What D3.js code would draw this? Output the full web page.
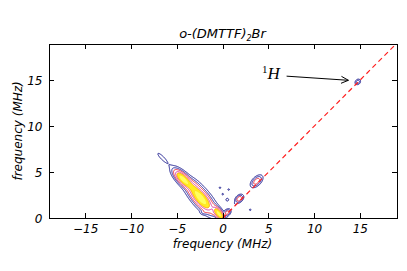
<!DOCTYPE html>
<html lang="en">
<head>
<meta charset="utf-8">
<title>o-(DMTTF)2Br HYSCORE</title>
<script src="https://d3js.org/d3.v7.min.js"></script>
<style>
    body { margin: 0; background: white; }
    .axis text { font: italic 12px "DejaVu Sans", sans-serif; fill: #000; }
    .axis path, .axis line { stroke: #000; stroke-width: 1px; shape-rendering: crispEdges; }
    .label { font: italic 12px "DejaVu Sans", sans-serif; }
</style>
</head>
<body>
<svg width="407" height="271"></svg>
<script>
    // axis ticks
    var xTicks = [-15, -10, -5, 0, 5, 10, 15];
    var yTicks = [0, 5, 10, 15];

    // peaks (MHz): centre, width along / across its axis, angle, height
    var peakX      = [-6.6, -4.35, -2.4, -0.4, -2.6, 0.0, 0.65, 0.5, 1.4, 1.8, 0.5, 3.7, 3.0, 14.75, -2.1, -1.0, -3.1, -0.3];
    var peakY      = [ 6.55, 4.25,  2.15, 0.45, 2.6, 2.6, 3.1,  2.0, 1.6, 2.1, 0.6, 4.0, 0.9, 14.8,   0.6,  0.55, 3.6,  3.3];
    var peakAlong  = [0.8,  0.75, 1.1,  0.5,  1.9,  0.1, 0.1,  0.15, 0.1, 0.3, 0.25, 0.45, 0.1, 0.2,  0.25, 0.15, 0.5,  0.1];
    var peakAcross = [0.2,  0.3,  0.42, 0.22, 0.55, 0.1, 0.1,  0.15, 0.1, 0.2, 0.18, 0.25, 0.1, 0.16, 0.15, 0.15, 0.3,  0.1];
    var peakAngle  = [-45,  -45,  -50,  -55,  -45,   0,   0,    0,    0,  45,  45,   45,   0,  45,     0,    0,  -45,   0];
    var peakAmp    = [0.07, 1.0,  1.0,  1.0,  0.1,  0.07, 0.07, 0.08, 0.06, 0.35, 0.3, 0.32, 0.07, 0.2, 0.09, 0.08, 0.07, 0.07];

    // contour levels and their colours
    var levels      = [0.05, 0.12, 0.22, 0.4, 0.55, 0.8];
    var levelColors = ["#1a1a8c", "#22229e", "#e82a3a", "#d83aa0", "#ff9a10", "#ffe020"];
    var levelFills  = ["none", "none", "none", "none", "#ffee20", "#ffff60"];

    // title / annotation
    var title = "o-(DMTTF)";
    var axisLabel = "frequency (MHz)";
    var noteText = [4.3, 15.1];
    var arrowFrom = [7.0, 15.45];
    var arrowTo = [13.75, 15.0];

    var svg = d3.select("svg"),
        margin = { top: 43.5, right: 10.5, bottom: 52.7, left: 48.5 },
        width = +svg.attr("width") - margin.left - margin.right,
        height = +svg.attr("height") - margin.top - margin.bottom;

    var x = d3.scaleLinear().domain([-19, 19]).range([0, width]);
    var y = d3.scaleLinear().domain([0, 19]).range([height, 0]);

    var g = svg.append("g")
        .attr("transform", "translate(" + margin.left + "," + margin.top + ")");

    g.append("clipPath").attr("id", "plotclip")
        .append("rect").attr("width", width).attr("height", height);

    // build the intensity grid from the peaks
    var x0 = -9, y0 = -1, step = 0.05;
    var nx = Math.round((17 - x0) / step), ny = Math.round((17 - y0) / step);
    var values = new Float64Array(nx * ny);
    for (var j = 0; j < ny; j++) {
        var py = y0 + j * step;
        for (var i = 0; i < nx; i++) {
            var px = x0 + i * step, v = 0;
            for (var k = 0; k < peakX.length; k++) {
                var a = peakAngle[k] * Math.PI / 180;
                var dx = px - peakX[k], dy = py - peakY[k];
                var u = dx * Math.cos(a) + dy * Math.sin(a);
                var w = -dx * Math.sin(a) + dy * Math.cos(a);
                v += peakAmp[k] * Math.exp(-0.5 * (u * u / (peakAlong[k] * peakAlong[k]) + w * w / (peakAcross[k] * peakAcross[k])));
            }
            values[j * nx + i] = v;
        }
    }

    var contours = d3.contours().size([nx, ny]).thresholds(levels)(values);

    var proj = d3.geoTransform({
        point: function(gx, gy) {
            this.stream.point(x(x0 + gx * step), y(y0 + gy * step));
        }
    });
    var path = d3.geoPath(proj);

    var plot = g.append("g").attr("clip-path", "url(#plotclip)");

    plot.selectAll("path.contour")
        .data(contours)
        .enter().append("path")
        .attr("class", "contour")
        .attr("d", path)
        .attr("fill", function(d, i) { return levelFills[i]; })
        .attr("stroke", function(d, i) { return levelColors[i]; })
        .attr("stroke-width", 1);

    // diagonal dashed line
    plot.append("line")
        .attr("x1", x(0)).attr("y1", y(0))
        .attr("x2", x(19)).attr("y2", y(19))
        .attr("stroke", "#ff2020")
        .attr("stroke-width", 1.2)
        .attr("stroke-dasharray", "5,3.5");

    // axes, ticks pointing inward on all four sides
    g.append("g").attr("class", "axis")
        .attr("transform", "translate(0," + height + ")")
        .call(d3.axisBottom(x).tickValues(xTicks).tickSizeInner(-5).tickSizeOuter(0).tickPadding(6));
    g.append("g").attr("class", "axis")
        .call(d3.axisLeft(y).tickValues(yTicks).tickSizeInner(-5).tickSizeOuter(0).tickPadding(6));
    g.append("g").attr("class", "axis")
        .call(d3.axisTop(x).tickValues(xTicks).tickSizeInner(-5).tickSizeOuter(0).tickFormat(""));
    g.append("g").attr("class", "axis")
        .attr("transform", "translate(" + width + ",0)")
        .call(d3.axisRight(y).tickValues(yTicks).tickSizeInner(-5).tickSizeOuter(0).tickFormat(""));

    // labels
    var t = g.append("text")
        .attr("class", "label")
        .attr("x", width / 2)
        .attr("y", -6)
        .attr("text-anchor", "middle")
        .style("font-size", "13px");
    t.append("tspan").text(title);
    t.append("tspan").attr("dy", 3).style("font-size", "8px").text("2");
    t.append("tspan").attr("dy", -3).text("Br");

    g.append("text")
        .attr("class", "label")
        .attr("x", width / 2)
        .attr("y", height + 30)
        .attr("text-anchor", "middle")
        .text(axisLabel);

    g.append("text")
        .attr("class", "label")
        .attr("transform", "rotate(-90)")
        .attr("x", -height / 2)
        .attr("y", -27)
        .attr("text-anchor", "middle")
        .text(axisLabel);

    // 1H annotation with an open arrow
    var note = g.append("text")
        .attr("x", x(noteText[0]))
        .attr("y", y(noteText[1]))
        .style("font-family", "'Liberation Serif', 'DejaVu Serif', serif");
    note.append("tspan").attr("dy", -6).style("font-size", "11px").text("1");
    note.append("tspan").attr("dy", 6).style("font-size", "17px").style("font-style", "italic").text("H");

    var ax1 = x(arrowFrom[0]), ay1 = y(arrowFrom[1]), ax2 = x(arrowTo[0]), ay2 = y(arrowTo[1]);
    var ang = Math.atan2(ay2 - ay1, ax2 - ax1), hl = 8, hw = 0.45;
    g.append("path")
        .attr("d", "M" + ax1 + "," + ay1 + "L" + ax2 + "," + ay2 +
            "M" + (ax2 - hl * Math.cos(ang - hw)) + "," + (ay2 - hl * Math.sin(ang - hw)) +
            "L" + ax2 + "," + ay2 +
            "L" + (ax2 - hl * Math.cos(ang + hw)) + "," + (ay2 - hl * Math.sin(ang + hw)))
        .attr("fill", "none")
        .attr("stroke", "#000")
        .attr("stroke-width", 1);
</script>
</body>
</html>
